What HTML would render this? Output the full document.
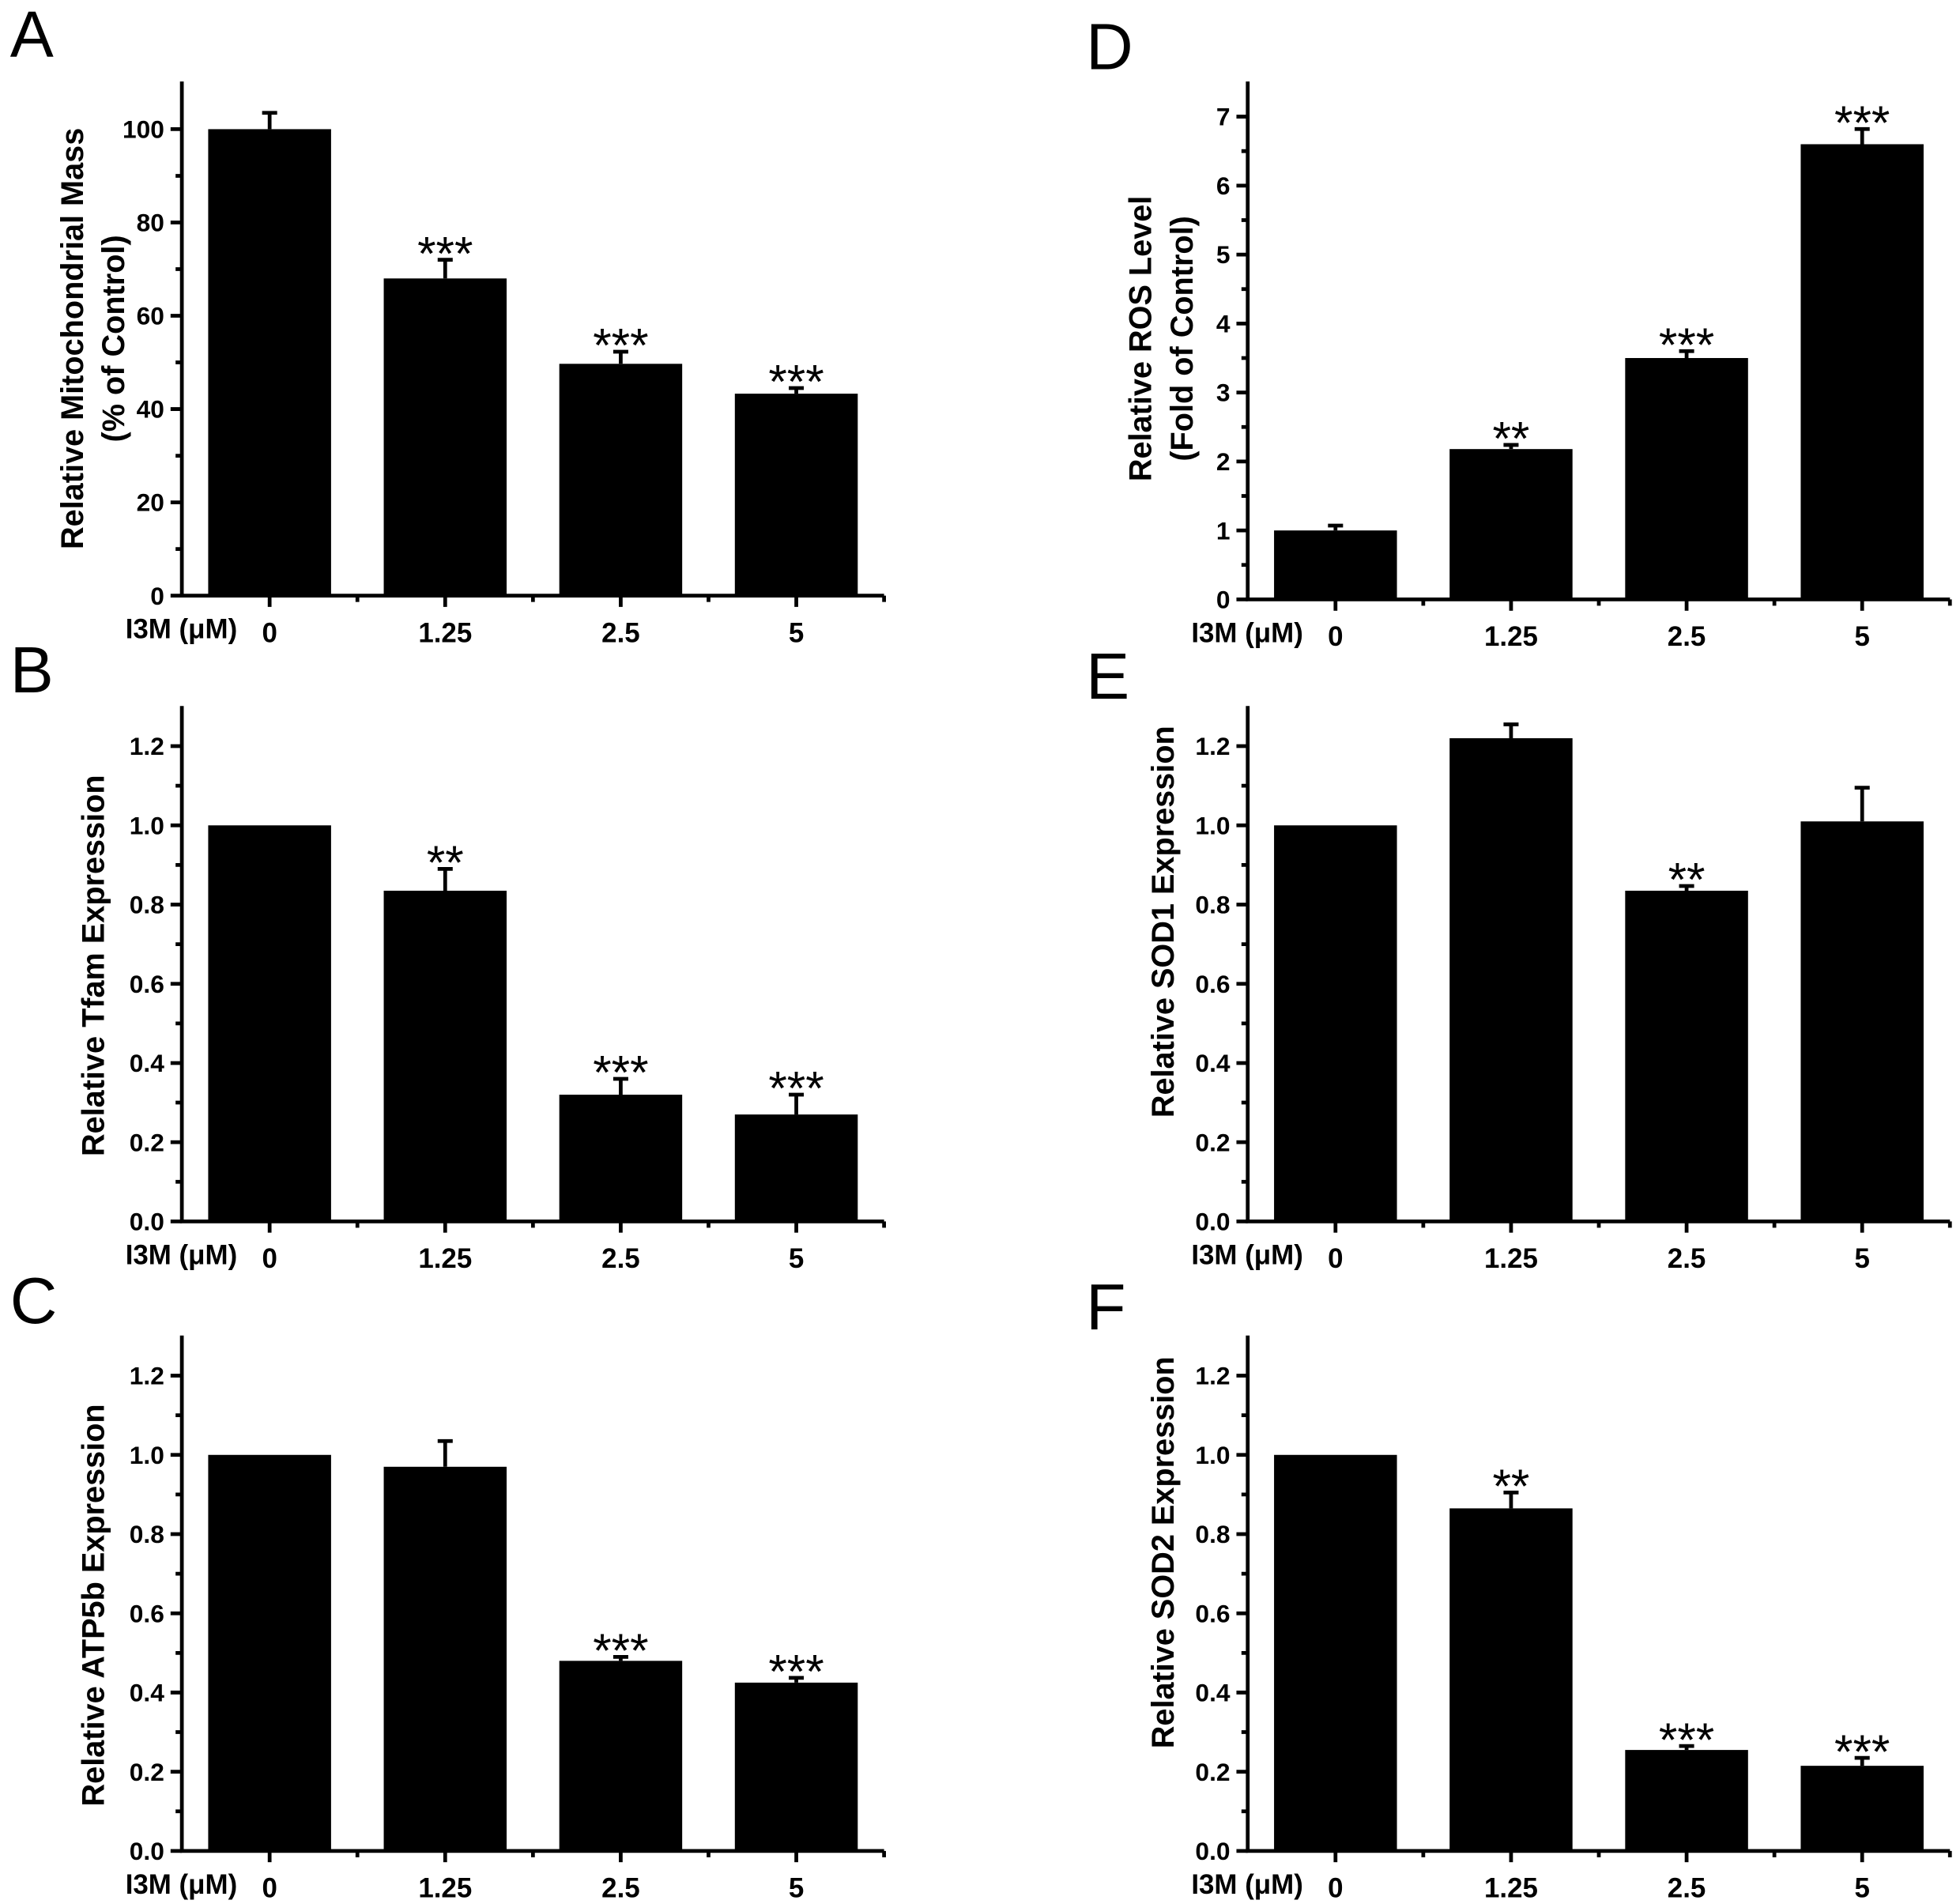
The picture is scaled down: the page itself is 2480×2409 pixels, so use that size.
<!DOCTYPE html>
<html><head><meta charset="utf-8"><style>
html,body{margin:0;padding:0;background:#fff;}
svg{display:block;}
text{font-family:"Liberation Sans",sans-serif;font-weight:bold;fill:#000;}
</style></head><body>
<svg id="fig" width="2480" height="2409" viewBox="0 0 1563 1518.3" xmlns="http://www.w3.org/2000/svg"></svg>
<script>
const categories = ["0","1.25","2.5","5"];
const valuesA = [100, 68, 49.7, 43.3];
const errorsA = [3.5, 4, 2.6, 1.2];
const starsA = ["", "***", "***", "***"];
const ticksA = [0,20,40,60,80,100];
const valuesB = [1.0, 0.835, 0.32, 0.27];
const errorsB = [0, 0.055, 0.04, 0.05];
const starsB = ["", "**", "***", "***"];
const ticksB = [0,0.2,0.4,0.6,0.8,1.0,1.2];
const valuesC = [1.0, 0.97, 0.48, 0.425];
const errorsC = [0, 0.065, 0.01, 0.012];
const starsC = ["", "", "***", "***"];
const valuesD = [1.0, 2.18, 3.5, 6.6];
const errorsD = [0.07, 0.06, 0.1, 0.22];
const starsD = ["", "**", "***", "***"];
const ticksD = [0,1,2,3,4,5,6,7];
const valuesE = [1.0, 1.22, 0.835, 1.01];
const errorsE = [0, 0.035, 0.012, 0.085];
const starsE = ["", "", "**", ""];
const valuesF = [1.0, 0.865, 0.255, 0.215];
const errorsF = [0, 0.04, 0.01, 0.02];
const starsF = ["", "**", "***", "***"];

const NS="http://www.w3.org/2000/svg";
const svg=document.getElementById('fig');
function mk(tag,attrs,parent){const e=document.createElementNS(NS,tag);for(const k in attrs)e.setAttribute(k,attrs[k]);(parent||svg).appendChild(e);return e;}

function panel(o){
  const g=mk('g',{});
  
  
  const x0=o.x0, x1=o.x0+560, yZero=o.yZero, yTop=o.yTop;
  const ymax=o.ticks[o.ticks.length-1];
  const ppu=(yZero-o.yMaxPix)/ymax;
  const Y=v=>yZero-v*ppu;
  const step=(x1-x0)/4;
  const X=i=>x0+(i+0.5)*step;
  const L=mk('text',{x:o.lx,y:o.ly,'font-size':52,style:'font-weight:normal'},g);L.textContent=o.letter;
  
  
  o.values.forEach((v,i)=>{
    const b=mk('rect',{x:X(i)-49,y:Y(v),width:98,height:yZero-Y(v),fill:'#000'},g);
    
    
    const e=o.errors[i];
    if(e>0){
      const eb=mk('path',{d:`M${X(i)} ${Y(v)} V${Y(v+e)} M${X(i)-6} ${Y(v+e)} H${X(i)+6}`,stroke:'#000','stroke-width':3,fill:'none'},g);
      
      
    }
    if(o.stars[i]){
      const s=mk('text',{x:X(i),y:Y(v+e)+8,'font-size':38,'text-anchor':'middle',style:'font-weight:normal'},g);
      s.textContent=o.stars[i];
      
      
    }
  });
  const ax=mk('path',{d:`M${x0} ${yTop} V${yZero} H${x1}`,stroke:'#000','stroke-width':3,fill:'none'},g);
  
  
  let d='';
  const minor=(o.ticks[1]-o.ticks[0])/2;
  for(let v=0;v<=ymax+1e-9;v+=minor){
    const major=Math.abs(Math.round(v/minor)%2)===0;
    d+=`M${x0-(major?9:5)} ${Y(v)} H${x0}`;
  }
  for(let i=0;i<4;i++){d+=`M${X(i)} ${yZero} V${yZero+9}`;d+=`M${x0+(i+1)*step} ${yZero} V${yZero+5}`;}
  const tk=mk('path',{d:d,stroke:'#000','stroke-width':3},g);
  
  
  o.ticks.forEach(v=>{
    const t=mk('text',{x:x0-14,y:Y(v)+7,'font-size':20,'text-anchor':'end'},g);
    t.textContent=o.fmt(v);
    
    
  });
  categories.forEach((c,i)=>{
    const t=mk('text',{x:X(i),y:yZero+37,'font-size':22,'text-anchor':'middle'},g);
    t.textContent=c;
    
    
  });
  const xl=mk('text',{x:x0-45,y:yZero+34,'font-size':22},g);xl.textContent='I3M (μM)';
  
  
  o.title.forEach((line,k)=>{
    const tx=o.tx+k*33, ty=o.ty;
    const t=mk('text',{x:tx,y:ty,'font-size':25,'text-anchor':'middle',transform:`rotate(-90 ${tx} ${ty})`},g);
    t.textContent=line;
    
    
  });
}
const f1=v=>v.toFixed(1), f0=v=>String(v);
panel({letter:'A',lx:8,ly:45,x0:145,yTop:65,yZero:475,yMaxPix:103,ticks:ticksA,fmt:f0,values:valuesA,errors:errorsA,stars:starsA,title:['Relative Mitochondrial Mass','(% of Control)'],tx:66,ty:270});
panel({letter:'B',lx:8,ly:552,x0:145,yTop:563,yZero:974,yMaxPix:595,ticks:ticksB,fmt:f1,values:valuesB,errors:errorsB,stars:starsB,title:['Relative Tfam Expression'],tx:83,ty:770});
panel({letter:'C',lx:8,ly:1055,x0:145,yTop:1065,yZero:1476,yMaxPix:1097,ticks:ticksB,fmt:f1,values:valuesC,errors:errorsC,stars:starsC,title:['Relative ATP5b Expression'],tx:83,ty:1280});
panel({letter:'D',lx:866,ly:55,x0:995,yTop:65,yZero:478,yMaxPix:93,ticks:ticksD,fmt:f0,values:valuesD,errors:errorsD,stars:starsD,title:['Relative ROS Level','(Fold of Control)'],tx:918,ty:270});
panel({letter:'E',lx:866,ly:557,x0:995,yTop:563,yZero:974,yMaxPix:595,ticks:ticksB,fmt:f1,values:valuesE,errors:errorsE,stars:starsE,title:['Relative SOD1 Expression'],tx:936,ty:735});
panel({letter:'F',lx:866,ly:1060,x0:995,yTop:1065,yZero:1476,yMaxPix:1097,ticks:ticksB,fmt:f1,values:valuesF,errors:errorsF,stars:starsF,title:['Relative SOD2 Expression'],tx:936,ty:1238});
</script>
</body></html>
